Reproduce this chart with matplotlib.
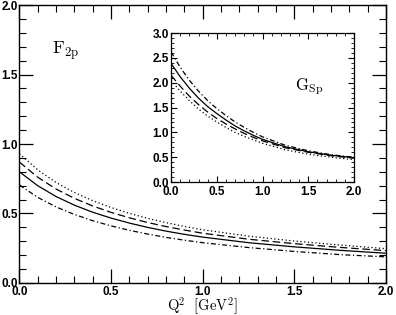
import matplotlib
matplotlib.use("Agg")
import matplotlib.pyplot as plt
from matplotlib.ticker import MultipleLocator

plt.rcParams['mathtext.fontset'] = 'cm'
plt.rcParams['font.family'] = ['Liberation Sans', 'DejaVu Sans']

# Q^2 grid (GeV^2)
q2 = [0.0, 0.1, 0.2, 0.3, 0.4, 0.5, 0.6, 0.7, 0.8, 0.9, 1.0, 1.25, 1.5, 1.75, 2.0]

# F_2p curves (main panel)
f2_solid = [0.800, 0.700, 0.622, 0.560, 0.509, 0.467, 0.431, 0.400, 0.373, 0.350, 0.330, 0.290, 0.260, 0.235, 0.214]
f2_dotted = [0.930, 0.814, 0.723, 0.651, 0.592, 0.543, 0.501, 0.465, 0.434, 0.407, 0.383, 0.337, 0.302, 0.273, 0.247]
f2_dashed = [0.870, 0.761, 0.676, 0.609, 0.554, 0.508, 0.469, 0.435, 0.406, 0.381, 0.358, 0.315, 0.283, 0.256, 0.233]
f2_dashdot = [0.705, 0.616, 0.547, 0.493, 0.448, 0.411, 0.379, 0.352, 0.328, 0.308, 0.290, 0.255, 0.227, 0.204, 0.188]

# G_Sp curves (inset)
gs_solid = [2.39, 2.12, 1.89, 1.69, 1.52, 1.38, 1.25, 1.13, 1.03, 0.94, 0.86, 0.71, 0.61, 0.54, 0.49]
gs_dashdot = [2.62, 2.31, 2.05, 1.83, 1.64, 1.48, 1.34, 1.21, 1.10, 1.00, 0.91, 0.74, 0.63, 0.55, 0.50]
gs_dashed = [2.15, 1.93, 1.73, 1.56, 1.41, 1.28, 1.17, 1.07, 0.98, 0.90, 0.83, 0.69, 0.60, 0.53, 0.48]
gs_dotted = [2.05, 1.83, 1.64, 1.47, 1.33, 1.21, 1.10, 1.00, 0.92, 0.85, 0.78, 0.65, 0.56, 0.50, 0.45]

ticks_main = ['0.0', '0.5', '1.0', '1.5', '2.0']
ticks_inset_y = ['0.0', '0.5', '1.0', '1.5', '2.0', '2.5', '3.0']

dash = (0, (6, 3))
dot = (0, (1, 2))
dashdot = (0, (4, 2, 1, 2))
lw = 0.9
tfs = 8.5

fig = plt.figure(figsize=(3.96, 3.15), dpi=100)
ax = fig.add_axes([0.049, 0.1016, 0.926, 0.8825])

ax.plot(q2, f2_solid, color='black', lw=lw, ls='-')
ax.plot(q2, f2_dotted, color='black', lw=lw, ls=dot)
ax.plot(q2, f2_dashed, color='black', lw=lw, ls=dash)
ax.plot(q2, f2_dashdot, color='black', lw=lw, ls=dashdot)

ax.set_xlim(0, 2)
ax.set_ylim(0, 2)
ax.set_xticks([0, 0.5, 1.0, 1.5, 2.0])
ax.set_xticklabels(ticks_main, fontweight='bold', fontsize=tfs)
ax.set_yticks([0, 0.5, 1.0, 1.5, 2.0])
ax.set_yticklabels(ticks_main, fontweight='bold', fontsize=tfs)
ax.xaxis.set_minor_locator(MultipleLocator(0.1))
ax.yaxis.set_minor_locator(MultipleLocator(0.1))
ax.tick_params(which='both', direction='in', top=True, right=True, pad=1)
ax.tick_params(axis='x', pad=2.5)
ax.tick_params(which='major', length=10, width=0.9)
ax.tick_params(which='minor', length=5, width=0.8)
for s in ax.spines.values():
    s.set_linewidth(1.0)

ax.set_xlabel(r'$\mathrm{Q^2\ \ [GeV^2]}$', fontsize=10.5, labelpad=-2.5)
ax.text(0.18, 1.64, r'$\mathrm{F_{2p}}$', fontsize=13)

# inset
ins = fig.add_axes([0.432, 0.422, 0.462, 0.473])
ins.plot(q2, gs_solid, color='black', lw=lw, ls='-')
ins.plot(q2, gs_dashdot, color='black', lw=lw, ls=dashdot)
ins.plot(q2, gs_dashed, color='black', lw=lw, ls=dash)
ins.plot(q2, gs_dotted, color='black', lw=lw, ls=dot)
ins.set_xlim(0, 2)
ins.set_ylim(0, 3)
ins.set_xticks([0, 0.5, 1.0, 1.5, 2.0])
ins.set_xticklabels(ticks_main, fontweight='bold', fontsize=tfs)
ins.set_yticks([0, 0.5, 1.0, 1.5, 2.0, 2.5, 3.0])
ins.set_yticklabels(ticks_inset_y, fontweight='bold', fontsize=tfs)
ins.xaxis.set_minor_locator(MultipleLocator(0.1))
ins.yaxis.set_minor_locator(MultipleLocator(0.1))
ins.tick_params(which='both', direction='in', top=True, right=True, pad=1.5)
ins.tick_params(axis='x', pad=2.5)
ins.tick_params(which='major', length=4, width=0.8)
ins.tick_params(which='minor', length=2, width=0.6)
for s in ins.spines.values():
    s.set_linewidth(0.9)
ins.text(1.36, 1.85, r'$\mathrm{G_{Sp}}$', fontsize=12)

fig.savefig('out.png', dpi=100)
